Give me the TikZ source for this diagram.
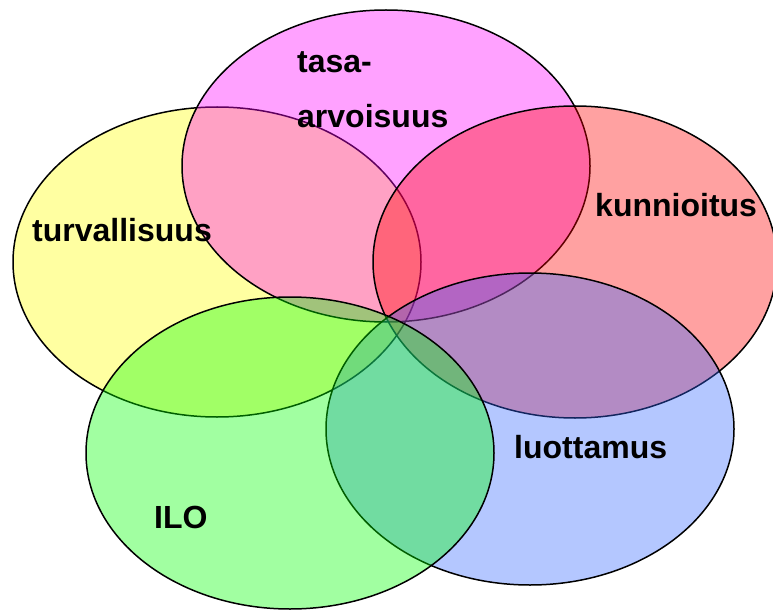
\documentclass[tikz,border=0pt]{standalone}
\usepackage{fontspec}
\setmainfont{Liberation Sans}
\usepackage{tikz}

\definecolor{setyellow}{RGB}{255,255,0}
\definecolor{setmagenta}{RGB}{255,0,255}
\definecolor{setred}{RGB}{255,0,0}
\definecolor{setblue}{RGB}{51,102,255}
\definecolor{setgreen}{RGB}{0,255,0}

\begin{document}
\begin{tikzpicture}[x=1pt, y=-1pt,
                set/.style={draw=black, line width=1.5pt, fill opacity=0.37},
                word/.style={anchor=base west, inner sep=0pt, font=\fontsize{32}{38}\selectfont\bfseries}]

                % canvas
                \useasboundingbox (0,0) rectangle (773,612);
                \clip (0,0) rectangle (773,612);

                % the five sets, back to front
                \path[set, fill=setyellow]  (217,262) ellipse [x radius=204, y radius=155];
                \path[set, fill=setmagenta] (386,166) ellipse [x radius=204, y radius=156];
                \path[set, fill=setred]     (575,262) ellipse [x radius=202, y radius=156];
                \path[set, fill=setblue]    (530,429) ellipse [x radius=204, y radius=156];
                \path[set, fill=setgreen]   (290,453) ellipse [x radius=204, y radius=156];

                % labels
                \node[word] (tasa) at (297,73) {tasa-};
                \node[word] (arvo) at (297,128) {arvoisuus};
                \node[word] (turva) at (32,242) {turvallisuus};
                \node[word] (kunn) at (595,217) {kunnioitus};
                \node[word] (luott) at (514,458) {luottamus};
                \node[word] (ilo) at (154,528) {ILO};
            \end{tikzpicture}
\end{document}
